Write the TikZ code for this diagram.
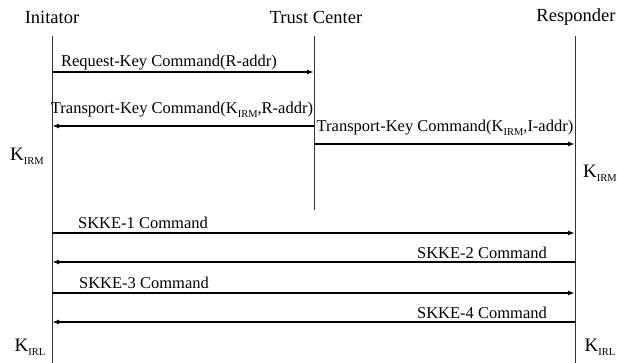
\documentclass[tikz,border=0pt]{standalone}
\usepackage{fontspec}
\setmainfont{Liberation Serif}
\usetikzlibrary{arrows.meta}
\newcommand{\lowsub}[1]{\raisebox{-0.45ex}{\fontsize{10.5}{10.5}\selectfont #1}}
\tikzset{
  head/.style={font=\fontsize{18.5}{20}\selectfont, inner sep=0pt},
  msg/.style={font=\fontsize{16.5}{18}\selectfont, inner sep=0pt},
  key/.style={font=\fontsize{19}{20}\selectfont, inner sep=0pt},
  life/.style={line width=1pt, draw=black!80},
  arr/.style={line width=1.4pt, -{Latex[length=7pt,width=5pt]}},
}
\begin{document}
\begin{tikzpicture}[x=1pt,y=-1pt]
\useasboundingbox (0,0) rectangle (618,363);
% headers
\node[head] (hi) at (52,17) {Initator};
\node[head] (ht) at (316,17) {Trust Center};
\node[head] (hr) at (576,17) {Responder};
% lifelines
\coordinate (it) at (52,36); \coordinate (ib) at (52,363);
\coordinate (tt) at (314,36); \coordinate (tb) at (314,210);
\coordinate (rt) at (575,36); \coordinate (rb) at (575,363);
\draw[life] (it) -- (ib);
\draw[life] (tt) -- (tb);
\draw[life] (rt) -- (rb);
% arrow endpoints
\coordinate (a1s) at (52,72);  \coordinate (a1e) at (314,72);
\coordinate (a2s) at (314,126); \coordinate (a2e) at (52,126);
\coordinate (a3s) at (314,144); \coordinate (a3e) at (575,144);
\coordinate (a4s) at (52,233);  \coordinate (a4e) at (575,233);
\coordinate (a5s) at (575,262); \coordinate (a5e) at (52,262);
\coordinate (a6s) at (52,293);  \coordinate (a6e) at (575,293);
\coordinate (a7s) at (575,322); \coordinate (a7e) at (52,322);
\draw[arr] (a1s) -- (a1e);
\draw[arr] (a2s) -- (a2e);
\draw[arr] (a3s) -- (a3e);
\draw[arr] (a4s) -- (a4e);
\draw[arr] (a5s) -- (a5e);
\draw[arr] (a6s) -- (a6e);
\draw[arr] (a7s) -- (a7e);
% labels
\node[msg] (l1) at (169,63) {Request-Key Command(R-addr)};
\node[msg] (l2) at (182,110) {Transport-Key Command(K\lowsub{IRM},R-addr)};
\node[msg] (l3) at (445,128) {Transport-Key Command(K\lowsub{IRM},I-addr)};
\node[msg] (l4) at (143,223) {SKKE-1 Command};
\node[msg] (l5) at (482,253) {SKKE-2 Command};
\node[msg] (l6) at (144,283) {SKKE-3 Command};
\node[msg] (l7) at (482,313) {SKKE-4 Command};
% keys
\node[key] (k1) at (27,156) {K\lowsub{IRM}};
\node[key] (k2) at (600,173) {K\lowsub{IRM}};
\node[key] (k3) at (30,347) {K\lowsub{IRL}};
\node[key] (k4) at (600,347) {K\lowsub{IRL}};
\end{tikzpicture}
\end{document}
